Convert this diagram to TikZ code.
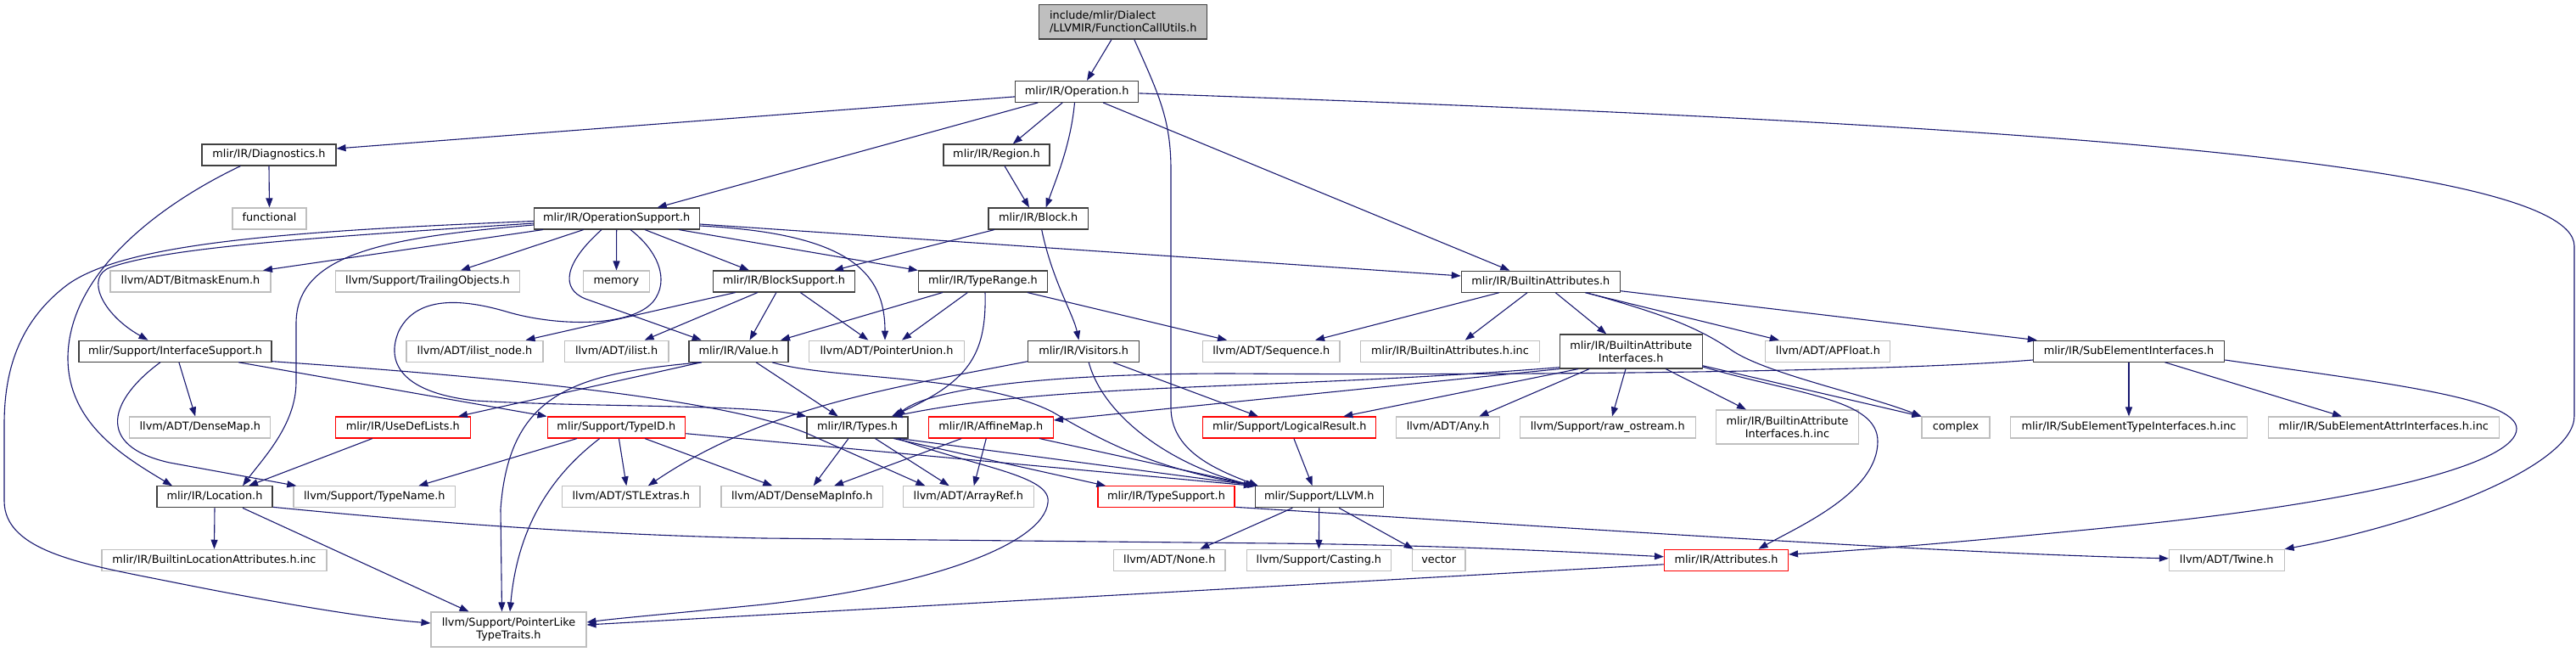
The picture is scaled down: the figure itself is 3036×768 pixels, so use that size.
\documentclass[tikz,border=0pt]{standalone}
\usepackage{fontspec}
\newfontfamily\dv{DejaVu Sans}
\usetikzlibrary{arrows.meta}
\definecolor{mblue}{HTML}{191970}
\definecolor{grey75}{HTML}{BFBFBF}
\begin{document}
\begin{tikzpicture}[x=1pt,y=-1pt,
  box/.style={draw, line width=1.1pt, fill=white, inner sep=0pt, minimum height=25pt,
    font={\dv\fontsize{12.85}{15}\selectfont}},
  one/.style={box, text height=9.8pt, text depth=3pt},
  doc/.style={one, draw=black!75},
  ext/.style={one, draw=grey75},
  trn/.style={one, draw=red},
  two/.style={box, minimum height=40pt, align=center},
  e/.style={draw=mblue, line width=1.1pt, -{Triangle[length=11pt,width=8pt]}}]
\useasboundingbox (0,0) rectangle (3036,768);
% nodes
\node[two, draw=black!75, fill=grey75, align=left, minimum width=198pt, minimum height=40.3pt] (main) at (1323.7,25.9) {include/mlir/Dialect\\/LLVMIR/FunctionCallUtils.h};
\node[doc, minimum width=145pt] (op) at (1269.2,107.9) {mlir/IR/Operation.h};
\node[doc, minimum width=158pt] (diag) at (317,182.5) {mlir/IR/Diagnostics.h};
\node[doc, minimum width=125pt] (region) at (1174.5,182.5) {mlir/IR/Region.h};
\node[doc, minimum width=117.5pt] (block) at (1223.7,257.5) {mlir/IR/Block.h};
\node[doc, minimum width=194.7pt] (opsup) at (726.7,257.5) {mlir/IR/OperationSupport.h};
\node[ext, minimum width=87pt] (functional) at (317.5,257.5) {functional};
\node[ext, minimum width=189pt] (bitmask) at (224.5,331.5) {llvm/ADT/BitmaskEnum.h};
\node[ext, minimum width=217pt] (trailing) at (504,331.5) {llvm/Support/TrailingObjects.h};
\node[ext, minimum width=77.6pt] (memory) at (726.5,331.5) {memory};
\node[doc, minimum width=166.3pt] (blocksup) at (923.9,331.5) {mlir/IR/BlockSupport.h};
\node[doc, minimum width=152pt] (typerange) at (1158.4,331.5) {mlir/IR/TypeRange.h};
\node[doc, minimum width=187pt] (battr) at (1815.8,331.7) {mlir/IR/BuiltinAttributes.h};
\node[doc, minimum width=227pt] (ifsup) at (206.5,413.7) {mlir/Support/InterfaceSupport.h};
\node[ext, minimum width=161pt] (ilistnode) at (559.5,413.7) {llvm/ADT/ilist\_node.h};
\node[ext, minimum width=122.7pt] (ilist) at (726.6,413.7) {llvm/ADT/ilist.h};
\node[doc, minimum width=117pt] (value) at (870.5,413.7) {mlir/IR/Value.h};
\node[ext, minimum width=183pt] (ptrunion) at (1045,413.7) {llvm/ADT/PointerUnion.h};
\node[doc, minimum width=131pt] (visitors) at (1277.2,413.7) {mlir/IR/Visitors.h};
\node[ext, minimum width=161.3pt] (sequence) at (1498.3,413.7) {llvm/ADT/Sequence.h};
\node[ext, minimum width=211pt] (battrinc) at (1709,413.7) {mlir/IR/BuiltinAttributes.h.inc};
\node[two, draw=black!75, minimum width=167.7pt] (bai) at (1922.2,414) {mlir/IR/BuiltinAttribute\\Interfaces.h};
\node[ext, minimum width=147pt] (apfloat) at (2154.4,413.7) {llvm/ADT/APFloat.h};
\node[doc, minimum width=225.4pt] (subel) at (2509,413.7) {mlir/IR/SubElementInterfaces.h};
\node[ext, minimum width=166pt] (densemap) at (235.8,503.5) {llvm/ADT/DenseMap.h};
\node[trn, minimum width=158.5pt] (usedef) at (474.8,503.5) {mlir/IR/UseDefLists.h};
\node[trn, minimum width=162.7pt] (typeid) at (726.4,503.5) {mlir/Support/TypeID.h};
\node[doc, minimum width=119pt] (types) at (1010.5,503.5) {mlir/IR/Types.h};
\node[trn, minimum width=147pt] (affine) at (1167.8,503.5) {mlir/IR/AffineMap.h};
\node[trn, minimum width=204pt] (logres) at (1519.9,503.5) {mlir/Support/LogicalResult.h};
\node[ext, minimum width=121.6pt] (any) at (1706.5,503.5) {llvm/ADT/Any.h};
\node[ext, minimum width=207pt] (rawos) at (1894.7,503.5) {llvm/Support/raw\_ostream.h};
\node[two, draw=grey75, minimum width=167.6pt] (baiinc) at (2106.5,503) {mlir/IR/BuiltinAttribute\\Interfaces.h.inc};
\node[ext, minimum width=80pt] (complex) at (2305,503.5) {complex};
\node[ext, minimum width=278.7pt] (subtype) at (2509,503.5) {mlir/IR/SubElementTypeInterfaces.h.inc};
\node[ext, minimum width=272.5pt] (subattr) at (2809.3,503.5) {mlir/IR/SubElementAttrInterfaces.h.inc};
\node[doc, minimum width=136pt] (location) at (253,585.3) {mlir/IR/Location.h};
\node[ext, minimum width=190.6pt] (typename) at (441.3,585.3) {llvm/Support/TypeName.h};
\node[ext, minimum width=162.4pt] (stlextras) at (743.8,585.3) {llvm/ADT/STLExtras.h};
\node[ext, minimum width=190.6pt] (densemapinfo) at (945.3,585.3) {llvm/ADT/DenseMapInfo.h};
\node[ext, minimum width=154pt] (arrayref) at (1141.3,585.3) {llvm/ADT/ArrayRef.h};
\node[trn, minimum width=161pt] (typesup) at (1374.5,585.3) {mlir/IR/TypeSupport.h};
\node[doc, minimum width=150.7pt] (llvm) at (1554.7,585.3) {mlir/Support/LLVM.h};
\node[ext, minimum width=265pt] (bloc) at (252.5,659.8) {mlir/IR/BuiltinLocationAttributes.h.inc};
\node[ext, minimum width=131.4pt] (none) at (1378.3,659.8) {llvm/ADT/None.h};
\node[ext, minimum width=170.7pt] (casting) at (1554.4,659.8) {llvm/Support/Casting.h};
\node[ext, minimum width=62.6pt] (vector) at (1695.7,659.8) {vector};
\node[trn, minimum width=146pt] (attrs) at (2034.5,659.8) {mlir/IR/Attributes.h};
\node[ext, minimum width=135.7pt] (twine) at (2624.2,659.8) {llvm/ADT/Twine.h};
\node[two, draw=grey75, minimum width=183pt, minimum height=41pt] (ptrlike) at (599.5,741.5) {llvm/Support/PointerLike\\TypeTraits.h};
% edges: main
\draw[e] ([xshift=-13.7pt]main.south) -- ([xshift=11.8pt]op.north);
\draw[e] ([xshift=13.1pt]main.south) .. controls (1365,110) and (1380,140) .. (1380,200) -- (1380,480) .. controls (1380,530) and (1430,552) .. ([xshift=4pt]llvm.north west);
% Operation
\draw[e] ([yshift=-6pt]op.west) -- ([yshift=7.5pt]diag.east);
\draw[e] ([xshift=-46pt]op.south) -- ([xshift=48pt]opsup.north);
\draw[e] ([xshift=-17pt]op.south) -- ([xshift=19.3pt]region.north);
\draw[e] ([xshift=-2.7pt]op.south) .. controls (1262,170) and (1245,210) .. ([xshift=9pt]block.north);
\draw[e] ([xshift=31pt]op.south) -- ([xshift=-36.5pt]battr.north);
\draw[e] ([yshift=-2pt]op.east) .. controls (2200,140) and (3034,180) .. (3034,290) -- (3034,490) .. controls (3034,550) and (2850,618) .. (twine.north east);
% Region, Diagnostics, Block
\draw[e] ([xshift=9.5pt]region.south) -- ([xshift=-10.7pt]block.north);
\draw[e] (diag.south) -- (functional.north);
\draw[e] ([xshift=-33.5pt]diag.south) .. controls (190,240) and (82,320) .. (80,420) .. controls (79,500) and (150,540) .. ([xshift=-50pt]location.north);
\draw[e] ([xshift=-51.7pt]block.south) -- ([xshift=59pt]blocksup.north);
\draw[e] ([xshift=4pt]block.south) .. controls (1240,330) and (1265,370) .. ([xshift=-5.8pt]visitors.north);
% OperationSupport
\draw[e] (opsup.south) -- (memory.north);
\draw[e] ([xshift=-86.7pt]opsup.south) -- ([xshift=85.5pt]bitmask.north);
\draw[e] ([xshift=-39pt]opsup.south) -- ([xshift=39pt]trailing.north);
\draw[e] ([xshift=33.3pt]opsup.south) -- ([xshift=-41pt]blocksup.north);
\draw[e] ([xshift=73.3pt]opsup.south) -- (typerange.north west);
\draw[e] ([yshift=-8.5pt]opsup.east) .. controls (1000,275) and (1043,320) .. ([xshift=-2pt]ptrunion.north);
\draw[e] ([yshift=-6.5pt]opsup.east) -- ([yshift=6.7pt]battr.west);
\draw[e] ([xshift=-17.7pt]opsup.south) .. controls (665,310) and (660,340) .. (690,352) -- ([xshift=-43.8pt]value.north);
\draw[e] ([xshift=16.3pt]opsup.south) .. controls (775,295) and (790,330) .. (770,355) .. controls (745,385) and (660,385) .. (600,368) .. controls (540,350) and (490,350) .. (470,390) .. controls (455,425) and (470,462) .. (560,472) .. controls (700,480) and (880,476) .. (types.north west);
\draw[e] ([yshift=-5.5pt]opsup.west) .. controls (400,278) and (200,290) .. (130,315) .. controls (100,326) and (120,370) .. ([xshift=-32pt]ifsup.north);
\draw[e] ([yshift=-7.5pt]opsup.west) .. controls (450,280) and (350,300) .. (349,380) -- (349,450) .. controls (349,500) and (310,540) .. ([xshift=33pt]location.north);
\draw[e] ([yshift=-3pt]opsup.west) .. controls (350,272) and (150,285) .. (80,335) .. controls (20,380) and (5,440) .. (5,500) -- (5,590) .. controls (5,650) and (100,665) .. (200,685) .. controls (300,705) and (420,727) .. ([yshift=7.5pt]ptrlike.west);
% BlockSupport
\draw[e] ([xshift=-57.2pt]blocksup.south) -- ([xshift=60pt]ilistnode.north);
\draw[e] ([xshift=-31pt]blocksup.south) -- ([xshift=33pt]ilist.north);
\draw[e] ([xshift=-9pt]blocksup.south) -- ([xshift=13pt]value.north);
\draw[e] ([xshift=19.4pt]blocksup.south) -- ([xshift=-21.7pt]ptrunion.north);
% TypeRange
\draw[e] ([xshift=-47.4pt]typerange.south) -- ([xshift=49.5pt]value.north);
\draw[e] ([xshift=-18pt]typerange.south) -- ([xshift=18pt]ptrunion.north);
\draw[e] ([xshift=2.6pt]typerange.south) .. controls (1163,420) and (1140,450) .. ([xshift=40.5pt]types.north);
\draw[e] ([xshift=52.4pt]typerange.south) -- ([xshift=-52.3pt]sequence.north);
% BuiltinAttributes
\draw[e] ([xshift=-49pt]battr.south) -- ([xshift=51.7pt]sequence.north);
\draw[e] ([xshift=-15.8pt]battr.south) -- ([xshift=17.7pt]battrinc.north);
\draw[e] ([xshift=17.5pt]battr.south) -- ([xshift=-29pt]bai.north);
\draw[e] ([xshift=52.5pt]battr.south) -- ([xshift=-57.6pt]apfloat.north);
\draw[e] ([xshift=54pt]battr.south) .. controls (1960,370) and (2000,385) .. (2040,412) .. controls (2080,440) and (2200,465) .. (complex.north west);
\draw[e] ([yshift=-11pt]battr.east) -- ([xshift=5pt]subel.north west);
% BuiltinAttributeInterfaces
\draw[e] ([yshift=-18.7pt]bai.west) .. controls (1500,460) and (1250,450) .. ([xshift=42pt]types.north);
\draw[e] (bai.south west) -- ([yshift=8.5pt]affine.east);
\draw[e] ([xshift=-62pt]bai.south) -- ([xshift=63.4pt]logres.north);
\draw[e] ([xshift=-49pt]bai.south) -- ([xshift=36.8pt]any.north);
\draw[e] ([xshift=-6.2pt]bai.south) -- ([xshift=5.3pt]rawos.north);
\draw[e] ([xshift=41pt]bai.south) -- ([xshift=-48.5pt]baiinc.north);
\draw[e] ([yshift=-16.7pt]bai.east) -- (complex.north west);
\draw[e] ([yshift=-18pt]bai.east) .. controls (2120,465) and (2213,470) .. (2213,520) .. controls (2213,580) and (2120,620) .. ([xshift=38pt]attrs.north);
% SubElementInterfaces
\draw[e] (subel.south) -- (subtype.north);
\draw[e] ([xshift=42.4pt]subel.south) -- ([xshift=-49.3pt]subattr.north);
\draw[e] ([yshift=-10.3pt]subel.west) .. controls (2200,440) and (1700,442) .. (1450,440) .. controls (1250,440) and (1100,455) .. ([xshift=45pt]types.north);
\draw[e] ([yshift=-10.3pt]subel.east) .. controls (2800,450) and (2966,468) .. (2966,505) .. controls (2966,545) and (2800,590) .. (2500,620) .. controls (2350,635) and (2200,648) .. ([yshift=6.8pt]attrs.east);
% Value
\draw[e] ([xshift=-43.8pt]value.south) -- ([xshift=65.2pt]usedef.north);
\draw[e] ([xshift=-43.8pt]value.south) .. controls (680,440) and (600,460) .. (590,600) -- ([xshift=-8pt]ptrlike.north);
\draw[e] ([xshift=20.5pt]value.south) -- ([xshift=-22.7pt]types.north);
\draw[e] ([xshift=39.5pt]value.south) .. controls (980,448) and (1150,440) .. (1240,485) .. controls (1300,520) and (1360,552) .. ([xshift=2pt]llvm.north west);
% Visitors
\draw[e] ([yshift=-12pt]visitors.west) .. controls (1050,457) and (900,480) .. ([xshift=20pt]stlextras.north);
\draw[e] ([xshift=34.5pt]visitors.south) -- ([xshift=-37pt]logres.north);
\draw[e] ([xshift=6pt]visitors.south) .. controls (1300,490) and (1380,548) .. (llvm.north west);
% Types
\draw[e] ([xshift=-10.5pt]types.south) -- ([xshift=13.4pt]densemapinfo.north);
\draw[e] ([xshift=21pt]types.south) -- ([xshift=-22.6pt]arrayref.north);
\draw[e] ([xshift=42.7pt]types.south) -- ([xshift=-71.2pt]typesup.north);
\draw[e] ([xshift=49.5pt]types.south) -- ([xshift=3pt]llvm.north west);
\draw[e] ([xshift=47.5pt]types.south) .. controls (1150,550) and (1240,560) .. (1235,592) .. controls (1230,640) and (1100,690) .. (900,712) .. controls (800,722) and (730,728) .. ([yshift=8.5pt]ptrlike.east);
% AffineMap
\draw[e] ([xshift=-34.6pt]affine.south) -- ([xshift=37.7pt]densemapinfo.north);
\draw[e] ([xshift=-5.5pt]affine.south) -- ([xshift=6.5pt]arrayref.north);
\draw[e] ([xshift=57.2pt]affine.south) -- ([xshift=1pt]llvm.north west);
% TypeID
\draw[e] ([xshift=-46.4pt]typeid.south) -- ([xshift=52pt]typename.north);
\draw[e] ([xshift=-19.7pt]typeid.south) .. controls (650,560) and (610,620) .. ([xshift=1.5pt]ptrlike.north);
\draw[e] ([xshift=3pt]typeid.south) -- ([xshift=-5.5pt]stlextras.north);
\draw[e] ([xshift=33.6pt]typeid.south) -- ([xshift=-35pt]densemapinfo.north);
\draw[e] ([yshift=-7.2pt]typeid.east) -- ([xshift=-2pt]llvm.north west);
% InterfaceSupport
\draw[e] ([xshift=4.4pt]ifsup.south) -- ([xshift=-5.6pt]densemap.north);
\draw[e] ([xshift=-17.5pt]ifsup.south) .. controls (130,470) and (110,525) .. (200,545) -- ([xshift=-92pt]typename.north);
\draw[e] ([xshift=74.6pt]ifsup.south) -- (typeid.north west);
\draw[e] ([yshift=-12pt]ifsup.east) .. controls (600,445) and (850,470) .. (950,510) -- ([xshift=-51pt]arrayref.north);
% Location, UseDefLists
\draw[e] (location.south) -- (bloc.north);
\draw[e] ([xshift=33pt]location.south) -- ([xshift=-47pt]ptrlike.north);
\draw[e] ([yshift=-12pt]location.east) .. controls (500,615) and (700,630) .. (900,634) -- (1500,640) .. controls (1700,642) and (1850,650) .. ([yshift=4pt]attrs.west);
\draw[e] ([xshift=-36pt]usedef.south) -- ([xshift=40pt]location.north);
% LLVM, LogicalResult, TypeSupport, Attributes
\draw[e] ([xshift=-31.4pt]llvm.south) -- ([xshift=36pt]none.north);
\draw[e] (llvm.south) -- (casting.north);
\draw[e] ([xshift=23.5pt]llvm.south) -- ([xshift=-30pt]vector.north);
\draw[e] ([xshift=5pt]logres.south) -- ([xshift=-8pt]llvm.north);
\draw[e] ([yshift=-12pt]typesup.east) .. controls (1900,625) and (2300,652) .. ([yshift=2pt]twine.west);
\draw[e] ([yshift=-5pt]attrs.west) -- ([yshift=5.5pt]ptrlike.east);
\end{tikzpicture}
\end{document}
